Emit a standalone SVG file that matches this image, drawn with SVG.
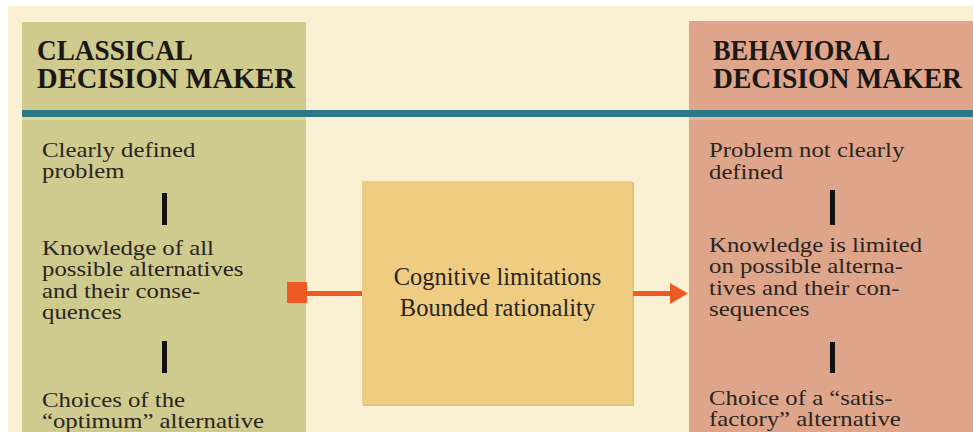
<svg xmlns="http://www.w3.org/2000/svg" width="973" height="432" viewBox="0 0 973 432">
<style>
.hd{font-family:"Liberation Serif","Times New Roman",serif;font-weight:bold;font-size:28.5px;fill:#1a1814}
.tx{font-family:"Liberation Serif","Times New Roman",serif;font-size:21px;fill:#2a2520}
.mid{font-family:"Liberation Serif","Times New Roman",serif;font-size:24.5px;fill:#2a2520;text-anchor:middle}
.bar{fill:#111}
.arr{stroke:#ee5a26;stroke-width:5;fill:none}
</style>
<rect x="0" y="0" width="973" height="432" fill="#ffffff"/>
<rect x="8" y="6" width="965" height="426" fill="#faf0d4"/>
<g id="classical">
<rect x="22" y="22" width="284" height="410" fill="#cfca8e"/>
<text class="hd" x="37" y="60" textLength="156" lengthAdjust="spacingAndGlyphs">CLASSICAL</text>
<text class="hd" x="37" y="88" textLength="258" lengthAdjust="spacingAndGlyphs">DECISION MAKER</text>
<g transform="translate(42,0) scale(1.18,1)">
<text class="tx" x="0" y="157">Clearly defined</text>
<text class="tx" x="0" y="178.5">problem</text>
<text class="tx" x="0" y="255">Knowledge of all</text>
<text class="tx" x="0" y="276.5">possible alternatives</text>
<text class="tx" x="0" y="298">and their conse-</text>
<text class="tx" x="0" y="319.5">quences</text>
<text class="tx" x="0" y="407">Choices of the</text>
<text class="tx" x="0" y="428.5">“optimum” alternative</text>
</g>
</g>
<g id="behavioral">
<rect x="689" y="21" width="284" height="411" fill="#dfa58a"/>
<text class="hd" x="713" y="60" textLength="177" lengthAdjust="spacingAndGlyphs">BEHAVIORAL</text>
<text class="hd" x="713" y="88" textLength="249" lengthAdjust="spacingAndGlyphs">DECISION MAKER</text>
<g transform="translate(709,0) scale(1.18,1)">
<text class="tx" x="0" y="157">Problem not clearly</text>
<text class="tx" x="0" y="179">defined</text>
<text class="tx" x="0" y="252">Knowledge is limited</text>
<text class="tx" x="0" y="273.5">on possible alterna-</text>
<text class="tx" x="0" y="295">tives and their con-</text>
<text class="tx" x="0" y="316.5">sequences</text>
<text class="tx" x="0" y="405">Choice of a “satis-</text>
<text class="tx" x="0" y="426.5">factory” alternative</text>
</g>
</g>
<rect x="22" y="110" width="951" height="7" fill="#2c7788"/>
<rect x="22" y="117" width="284" height="3" fill="#dcd89e"/>
<rect x="689" y="117" width="284" height="3" fill="#e6b59a"/>
<g id="middle">
<rect x="363" y="182" width="271" height="224" fill="#e3c27a"/>
<rect x="362" y="181" width="270" height="223" fill="#eecd83"/>
<text class="mid" x="497.5" y="285">Cognitive limitations</text>
<text class="mid" x="497.5" y="316">Bounded rationality</text>
</g>
<g id="connectors">
<rect class="bar" x="162" y="193" width="5" height="32"/>
<rect class="bar" x="162" y="341" width="5" height="32"/>
<rect class="bar" x="830" y="190" width="5" height="35"/>
<rect class="bar" x="830" y="342" width="5" height="31"/>
<rect x="287" y="282" width="20" height="21" fill="#ee5a26"/>
<line class="arr" x1="307" y1="293.5" x2="362" y2="293.5"/>
<line class="arr" x1="633" y1="293.5" x2="672" y2="293.5"/>
<polygon points="670,283 688,293.5 670,304" fill="#ee5a26"/>
</g>
</svg>
